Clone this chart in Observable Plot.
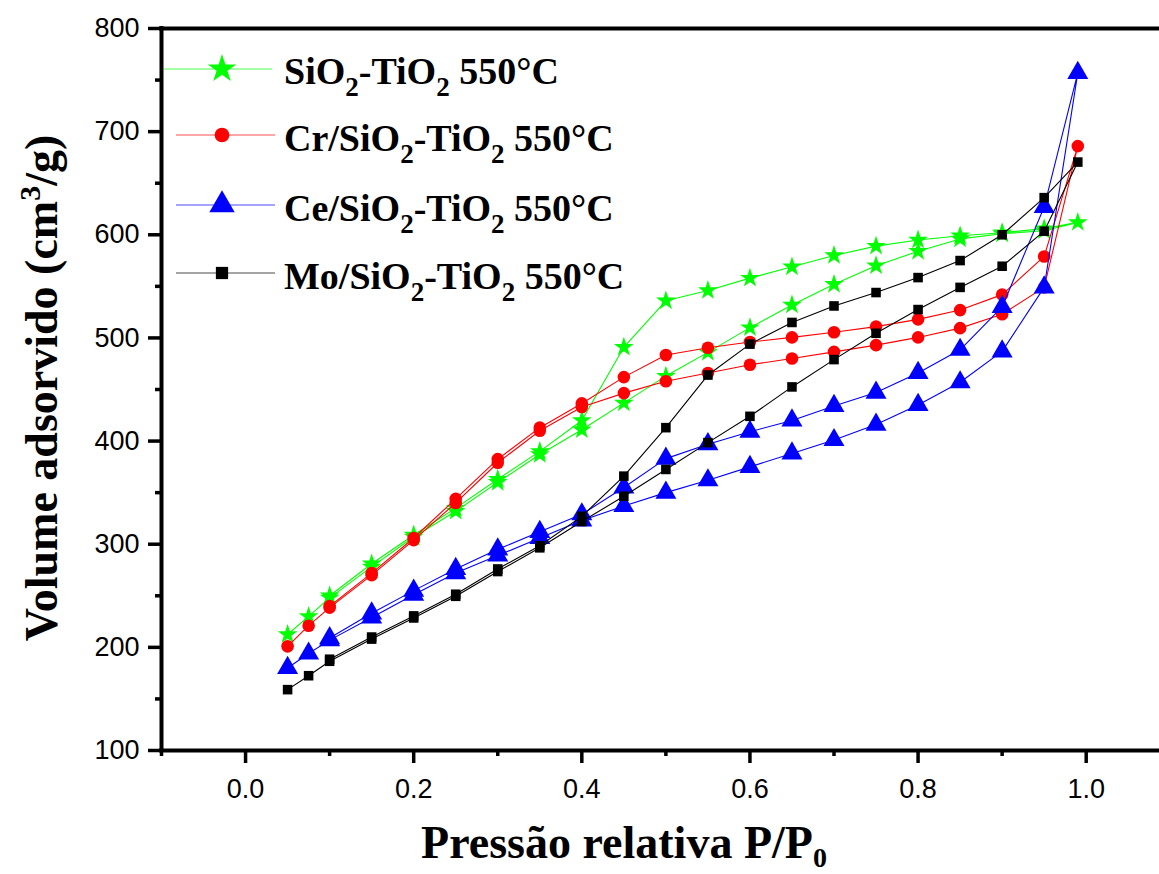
<!DOCTYPE html>
<html><head><meta charset="utf-8">
<script src="https://cdn.jsdelivr.net/npm/d3@7"></script>
<script src="https://cdn.jsdelivr.net/npm/@observablehq/plot@0.6"></script>
<style>
html,body{margin:0;padding:0;background:#fff;overflow:hidden;}
svg text{white-space:pre;}
</style>
</head><body><div id="chart"></div>
<script>
// Relative pressure points (adsorption branch goes up, desorption branch comes back down)
const pAds = [0.05,0.075,0.1,0.15,0.2,0.25,0.3,0.35,0.4,0.45,0.5,0.55,0.6,0.65,0.7,0.75,0.8,0.85,0.9,0.95,0.99];
const pDes = [0.95,0.9,0.85,0.8,0.75,0.7,0.65,0.6,0.55,0.5,0.45,0.4,0.35,0.3,0.25,0.2,0.15,0.1];

const seriesLabels = ["SiO2-TiO2 550°C","Cr/SiO2-TiO2 550°C","Ce/SiO2-TiO2 550°C","Mo/SiO2-TiO2 550°C"];

const siTiAds = [212.5,230,248,278,307,332,360,387,411,437,463,486,510,532,552,570,584,596,601,604,612];
const siTiDes = [606,602,599,595,589,580,569,558,546,536,491,420,390,363,335,309,281,250];

const crAds = [201,221,238.5,270,304,340,379,410,433,446.5,458,466,474,480,486.5,493,500.5,509.5,523,549,686];
const crDes = [579,542,527,518,511,505.5,500.5,496,490.5,483.5,462,436.5,413,382.5,344,306,272,240];

const ceAds = [180,194,207,229,251,272,289,306,323,337,350,362,375,388,401,416,435,457,487,549,757];
const ceDes = [627,530,488.5,466,447,434,420,409,397,383,355,329,312,295,276,255,233,209];

const moAds = [159,172.5,186.5,208,228.5,249.5,273.5,296.5,322,346.5,372.5,398.5,424,452.5,479,504.5,527.5,549,569.5,603.5,670.5];
const moDes = [636,600,575,558.5,544,531,515,494,464,413,366,327,298.5,276,251.5,230.5,210,188.5];

const xTicks = [0,0.2,0.4,0.6,0.8,1.0];
const xMinorTicks = [-0.1,0.1,0.3,0.5,0.7,0.9];
const yTicks = [100,200,300,400,500,600,700,800];
const yMinorTicks = [150,250,350,450,550,650,750];

const colors = ["#00ff00","#ff0000","#0000ff","#000000"];
const symbols = ["star","circle","triangle","square"];
const radii = [6.2,6.3,7.8,5.4];
const adsList = [siTiAds,crAds,ceAds,moAds];
const desList = [siTiDes,crDes,ceDes,moDes];

const seriesRows = seriesLabels.map((name,k) => [
  ...pAds.map((p,i) => ({series:name, P:p, V:adsList[k][i]})),
  ...pDes.map((p,i) => ({series:name, P:p, V:desList[k][i]}))
]);

const dataMarks = [];
seriesRows.forEach((rows,k) => {
  dataMarks.push(Plot.line(rows, {x:"P", y:"V", stroke:colors[k], strokeWidth:1.1}));
  dataMarks.push(Plot.dot(rows, {x:"P", y:"V", symbol:symbols[k], fill:colors[k], stroke:"none", r:radii[k]}));
});

const svg = Plot.plot({
  width: 1159, height: 874,
  marginLeft: 161, marginRight: 0, marginTop: 28, marginBottom: 124,
  style: {fontFamily: "'Liberation Sans', Arial, sans-serif", color: "#000", background: "#fff"},
  x: {domain: [-0.1, 1.0872]},
  y: {domain: [100, 800]},
  marks: [
    Plot.axisX({ticks: xTicks, tickFormat: d3.format(".1f"), tickSize: 13, tickPadding: 15, fontSize: 27, strokeWidth: 3.5, label: null}),
    Plot.axisX({ticks: xMinorTicks, tickSize: 6, strokeWidth: 3.5, fill: "none", label: null}),
    Plot.axisY({ticks: yTicks, tickSize: 13, tickPadding: 9, fontSize: 27, strokeWidth: 3.5, label: null}),
    Plot.axisY({ticks: yMinorTicks, tickSize: 6, strokeWidth: 3.5, fill: "none", label: null}),
    ...dataMarks,
    Plot.ruleX([-0.1], {strokeWidth: 4, strokeLinecap: "square"}),
    Plot.ruleY([100, 800], {strokeWidth: 4, strokeLinecap: "square"})
  ]
});
document.getElementById("chart").appendChild(svg);

// Titles and legend (text with sub/superscripts)
const S = d3.select(svg);
const serif = "'Liberation Serif', 'Times New Roman', serif";

function richText(sel, parts, subSize, shift) {
  let cur = 0;
  parts.forEach(([txt, kind]) => {
    const target = kind === "sub" ? shift : kind === "sup" ? -shift : 0;
    const ts = sel.append("tspan").attr("dy", target - cur).text(txt);
    if (kind) ts.attr("font-size", subSize);
    cur = target;
  });
}
function splitChem(label) {
  const parts = [];
  label.split(/(?<=O)2/).forEach((seg,i,arr) => {
    parts.push([seg, null]);
    if (i < arr.length - 1) parts.push(["2", "sub"]);
  });
  return parts;
}

// y title
const yt = S.append("text")
  .attr("transform", "translate(57,388) rotate(-90)")
  .attr("text-anchor", "middle")
  .attr("font-family", serif).attr("font-weight", "bold").attr("font-size", 46).attr("fill", "#000");
richText(yt, [["Volume adsorvido (cm", null], ["3", "sup"], ["/g)", null]], 30, 17);

// x title
const xt = S.append("text")
  .attr("x", 624).attr("y", 858)
  .attr("text-anchor", "middle")
  .attr("font-family", serif).attr("font-weight", "bold").attr("font-size", 46).attr("fill", "#000");
richText(xt, [["Pressão relativa P/P", null], ["0", "sub"]], 28, 9);

// legend
const legY = [69, 135, 205, 273];
const legLine = [[164,272],[176,275],[176,275],[176,275]];
const legText = [84, 151, 221, 289];
const legSize = [250, 170, 280, 150];
const lg = S.append("g").attr("text-anchor", "start");
seriesLabels.forEach((name,k) => {
  lg.append("line").attr("x1", legLine[k][0]).attr("x2", legLine[k][1])
    .attr("y1", legY[k]).attr("y2", legY[k])
    .attr("stroke", colors[k]).attr("stroke-width", 1.2).attr("stroke-opacity", 0.7);
  const sym = {star: d3.symbolStar, circle: d3.symbolCircle, triangle: d3.symbolTriangle, square: d3.symbolSquare}[symbols[k]];
  lg.append("path").attr("d", d3.symbol(sym, legSize[k])())
    .attr("transform", `translate(222,${legY[k]})`).attr("fill", colors[k]);
  const t = lg.append("text").attr("x", 284).attr("y", legText[k]).attr("text-anchor", "start")
    .attr("font-family", serif).attr("font-weight", "bold").attr("font-size", 38).attr("fill", "#000");
  richText(t, splitChem(name), 27, 12);
});
</script>
</body></html>
